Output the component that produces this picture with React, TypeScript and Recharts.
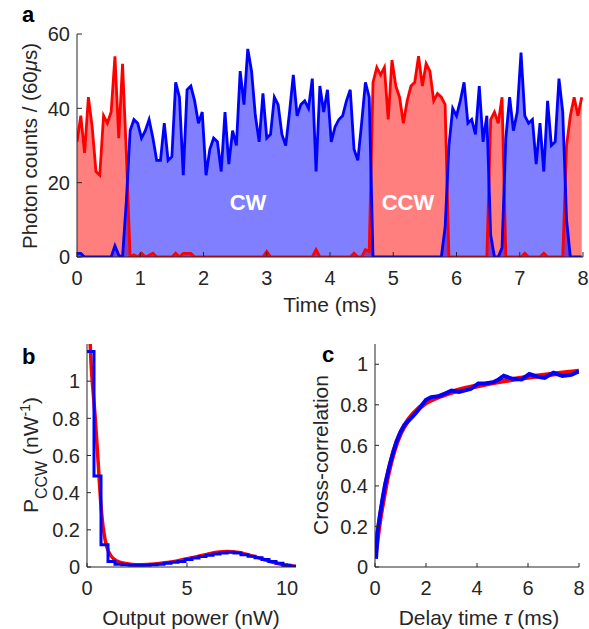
import React from 'react';
import { ComposedChart, Area, LineChart, Line, XAxis, YAxis } from 'recharts';

const FONT = '"Liberation Sans", Arial, Helvetica, sans-serif';
const INK = '#262626';
const RED = '#ff0000';
const BLUE = '#0000ff';

// ---- panel a: photon counts per 60 us bin ----
const binMs = 0.06;
const ccwCounts = [
  31, 38, 28, 43, 35, 23, 22, 38, 36, 39, 54, 32, 52, 28,
  0, 0.6, 0, 1, 0, 0.5, 1, 0, 0, 0, 0, 0,
  1, 0, 1, 1, 1, 0,
  0, 0, 0, 0, 0, 0, 0, 0, 0, 0, 0, 0, 0, 0, 0, 0, 0, 0,
  1.5,
  0, 0, 0, 0, 0, 0, 0, 0, 0, 0, 0, 0,
  2,
  0, 0, 0, 0, 0, 0, 0, 0, 0,
  1, 0, 0, 2, 1.5,
  47, 51, 49, 51, 37, 53, 46, 43, 36, 42, 46, 47, 54, 46, 52, 50, 42, 44, 43, 41,
  0, 0, 0, 0, 0, 0, 0, 0, 0, 0, 0,
  37, 39, 36, 43,
  0, 0, 0, 0, 0,
  1, 0, 0, 0, 0, 1,
  0, 0, 0, 0, 0,
  30, 38, 43, 38, 43,
];
const cwCounts = [
  1, 1, 0, 0, 0, 0, 0, 0, 0, 0, 3, 0.5, 0, 15,
  34, 37, 36, 32, 34, 37, 32, 26, 26, 36, 26, 27, 47, 43, 22, 45, 46, 42, 36, 39,
  22, 29, 32, 31, 23, 39, 25, 34, 30, 50, 41, 56, 50, 38, 31, 44, 32, 33, 43, 41,
  33, 30, 39, 49, 38, 41, 42, 40, 48, 23, 46, 39, 45, 31, 35, 37, 38, 42, 45, 29,
  26, 36, 47, 43,
  0, 0, 0, 0, 0, 0, 0, 0, 0, 0, 0, 0, 0, 0, 0, 0, 0, 0, 0,
  8, 30, 40, 38, 42, 47, 36, 37, 33, 46, 31, 38, 6,
  0, 0, 2.5,
  32, 43, 34, 39, 55, 38, 36, 37, 25, 36, 23, 42, 30, 31, 48, 39, 10,
  0, 0, 0, 0,
];
const timeTicks = [0, 1, 2, 3, 4, 5, 6, 7, 8];
const countTicks = [0, 20, 40, 60];

// ---- panel b: output power histogram ----
const histEdges = [
  0, 0.35, 0.7, 1.05, 1.4, 1.75, 2.1, 2.45, 2.8, 3.15, 3.5, 3.85, 4.2, 4.55, 4.9,
  5.25, 5.6, 5.95, 6.3, 6.65, 7.0, 7.35, 7.7, 8.05, 8.4, 8.75, 9.1, 9.45, 9.8, 10.15, 10.5,
];
const histValues = [
  1.16, 0.49, 0.12, 0.03, 0.015, 0.012, 0.01, 0.01, 0.01, 0.012, 0.015, 0.02, 0.025, 0.03, 0.04,
  0.048, 0.056, 0.063, 0.07, 0.076, 0.08, 0.075, 0.066, 0.058, 0.05, 0.04, 0.03, 0.02, 0.01, 0.004,
];
const fitPower = [
  0.1, 0.2, 0.3, 0.4, 0.5, 0.6, 0.7, 0.8, 0.9, 1.0, 1.2, 1.5, 2.0, 2.5, 3.0,
  3.5, 4.0, 4.5, 5.0, 5.5, 6.0, 6.5, 7.0, 7.5, 8.0, 8.5, 9.0, 9.5, 10.0, 10.45,
];
const fitProb = [
  1.35, 1.1, 0.95, 0.82, 0.66, 0.49, 0.33, 0.22, 0.15, 0.105, 0.06, 0.032, 0.017, 0.012, 0.013,
  0.017, 0.024, 0.033, 0.044, 0.056, 0.068, 0.079, 0.084, 0.08, 0.068, 0.052, 0.035, 0.02, 0.009, 0.003,
];
const powerTicks = [0, 5, 10];
const probTicks = [0, 0.2, 0.4, 0.6, 0.8, 1];

// ---- panel c: cross-correlation ----
const delayMs = [
  0.04, 0.1, 0.2, 0.3, 0.4, 0.55, 0.7, 0.85, 1.0, 1.15, 1.3, 1.5, 1.7, 1.85, 2.0, 2.2, 2.5, 2.75,
  3.0, 3.3, 3.5, 3.75, 4.05, 4.3, 4.65, 4.85, 5.05, 5.4, 5.75, 6.05, 6.35, 6.65, 7.0, 7.35, 7.7, 8.0,
];
const corrMeasured = [
  0.04, 0.17, 0.26, 0.34, 0.41, 0.49, 0.56, 0.62, 0.665, 0.7, 0.72, 0.745, 0.775, 0.8, 0.825, 0.838, 0.842, 0.855,
  0.87, 0.864, 0.87, 0.878, 0.905, 0.905, 0.912, 0.925, 0.943, 0.928, 0.925, 0.952, 0.94, 0.933, 0.958, 0.942, 0.948, 0.965,
];
const fitDelay = [0, 0.1, 0.2, 0.35, 0.5, 0.75, 1.0, 1.25, 1.5, 2.0, 2.5, 3.0, 4.0, 5.0, 6.0, 7.0, 8.0];
const fitCorr = [0.05, 0.15, 0.24, 0.35, 0.45, 0.575, 0.66, 0.715, 0.755, 0.81, 0.84, 0.862, 0.893, 0.917, 0.936, 0.952, 0.966];
const delayTicks = [0, 2, 4, 6, 8];
const corrTicks = [0, 0.2, 0.4, 0.6, 0.8, 1];

const countRows = cwCounts.map((cw, i) => ({ t: i * binMs, cw, ccw: ccwCounts[i] }));
const histRows = histEdges.map((x, i) => ({ x, p: histValues[Math.min(i, histValues.length - 1)] }));
const fitPowerRows = fitPower.map((x, i) => ({ x, p: fitProb[i] }));
const corrRows = delayMs.map((x, i) => ({ x, c: corrMeasured[i] }));
const fitCorrRows = fitDelay.map((x, i) => ({ x, c: fitCorr[i] }));

type Side = 'bottom' | 'left' | 'top' | 'right';

// MATLAB-style inward ticks, label optional
const tickMark = (side: Side, len: number, labels: boolean) => (props: any) => {
  const { x, y, payload } = props;
  const dx = side === 'left' ? len : side === 'right' ? -len : 0;
  const dy = side === 'bottom' ? -len : side === 'top' ? len : 0;
  const txt = { fontFamily: FONT, fontSize: 20, fill: INK };
  return (
    <g>
      <line x1={x} y1={y} x2={x + dx} y2={y + dy} stroke={INK} strokeWidth={1} />
      {labels && side === 'bottom' && (
        <text x={x} y={y + 28} textAnchor="middle" {...txt}>{payload.value}</text>
      )}
      {labels && side === 'left' && (
        <text x={x - 7} y={y} dy="0.36em" textAnchor="end" {...txt}>{payload.value}</text>
      )}
    </g>
  );
};

const axisCommon = {
  type: 'number' as const,
  interval: 0 as const,
  tickSize: 0,
  tickMargin: 0,
  tickLine: false,
  axisLine: { stroke: INK, strokeWidth: 1 },
  allowDataOverflow: true,
};

export default function App() {
  const txt = { fontFamily: FONT, fill: INK };
  return (
    <div style={{ position: 'absolute', left: 0, top: 0, width: 589, height: 629, background: '#fff' }}>
      <div style={{ position: 'absolute', left: 0, top: 0 }}>
        <ComposedChart width={589} height={330} data={countRows} margin={{ top: 34, right: 6, bottom: 0, left: 0 }}>
          <XAxis {...axisCommon} dataKey="t" domain={[0, 8]} ticks={timeTicks} height={73} tick={tickMark('bottom', 5, true)} />
          <XAxis {...axisCommon} xAxisId="top" orientation="top" domain={[0, 8]} ticks={timeTicks} height={0} tick={tickMark('top', 5, false)} />
          <YAxis {...axisCommon} domain={[0, 60]} ticks={countTicks} width={77} tick={tickMark('left', 5, true)} />
          <YAxis {...axisCommon} yAxisId="right" orientation="right" domain={[0, 60]} ticks={countTicks} width={0} tick={tickMark('right', 5, false)} />
          <Area type="linear" dataKey="ccw" stroke="none" fill={RED} fillOpacity={0.5} dot={false} activeDot={false} isAnimationActive={false} />
          <Area type="linear" dataKey="cw" stroke="none" fill={BLUE} fillOpacity={0.5} dot={false} activeDot={false} isAnimationActive={false} />
          <Line type="linear" dataKey="ccw" stroke={RED} strokeWidth={2.8} dot={false} activeDot={false} isAnimationActive={false} />
          <Line type="linear" dataKey="cw" stroke={BLUE} strokeWidth={2.8} dot={false} activeDot={false} isAnimationActive={false} />
        </ComposedChart>
      </div>

      <div style={{ position: 'absolute', left: 0, top: 330 }}>
        <LineChart width={300} height={299} margin={{ top: 14, right: 4, bottom: 0, left: 0 }}>
          <XAxis {...axisCommon} dataKey="x" domain={[0, 10.45]} ticks={powerTicks} height={62} tick={tickMark('bottom', 4, true)} />
          <XAxis {...axisCommon} xAxisId="top" orientation="top" domain={[0, 10.45]} ticks={powerTicks} height={0} tick={tickMark('top', 4, false)} />
          <YAxis {...axisCommon} domain={[0, 1.2]} ticks={probTicks} width={87} tick={tickMark('left', 4, true)} />
          <YAxis {...axisCommon} yAxisId="right" orientation="right" domain={[0, 1.2]} ticks={probTicks} width={0} tick={tickMark('right', 4, false)} />
          <Line data={fitPowerRows} type="monotone" dataKey="p" stroke={RED} strokeWidth={3.5} dot={false} activeDot={false} isAnimationActive={false} />
          <Line data={histRows} type="stepAfter" dataKey="p" stroke={BLUE} strokeWidth={3} dot={false} activeDot={false} isAnimationActive={false} />
        </LineChart>
      </div>

      <div style={{ position: 'absolute', left: 300, top: 330 }}>
        <LineChart width={289} height={299} margin={{ top: 14, right: 10, bottom: 0, left: 0 }}>
          <XAxis {...axisCommon} dataKey="x" domain={[0, 8]} ticks={delayTicks} height={62} tick={tickMark('bottom', 4, true)} />
          <XAxis {...axisCommon} xAxisId="top" orientation="top" domain={[0, 8]} ticks={delayTicks} height={0} tick={tickMark('top', 4, false)} />
          <YAxis {...axisCommon} domain={[0, 1.1]} ticks={corrTicks} width={75} tick={tickMark('left', 4, true)} />
          <YAxis {...axisCommon} yAxisId="right" orientation="right" domain={[0, 1.1]} ticks={corrTicks} width={0} tick={tickMark('right', 4, false)} />
          <Line data={fitCorrRows} type="monotone" dataKey="c" stroke={RED} strokeWidth={5} dot={false} activeDot={false} isAnimationActive={false} />
          <Line data={corrRows} type="linear" dataKey="c" stroke={BLUE} strokeWidth={4} dot={false} activeDot={false} isAnimationActive={false} />
        </LineChart>
      </div>

      <svg width={589} height={629} style={{ position: 'absolute', left: 0, top: 0, pointerEvents: 'none' }}>
        <text x={22} y={22} fontFamily={FONT} fontSize={22} fontWeight="bold" fill="#000">a</text>
        <text x={22} y={364} fontFamily={FONT} fontSize={22} fontWeight="bold" fill="#000">b</text>
        <text x={322} y={362} fontFamily={FONT} fontSize={22} fontWeight="bold" fill="#000">c</text>

        <text x={248} y={210} textAnchor="middle" fontFamily={FONT} fontSize={22} fontWeight="bold" fill="#fff">CW</text>
        <text x={408} y={210} textAnchor="middle" fontFamily={FONT} fontSize={22} fontWeight="bold" fill="#fff">CCW</text>

        <text transform="translate(37,146) rotate(-90)" textAnchor="middle" fontSize={20.5} {...txt}>
          Photon counts / (60<tspan fontStyle="italic">μ</tspan>s)
        </text>
        <text x={330} y={312} textAnchor="middle" fontSize={21} {...txt}>Time (ms)</text>

        <text transform="translate(38,455) rotate(-90)" textAnchor="middle" fontSize={21} {...txt}>
          P<tspan baselineShift="sub" fontSize={16}>CCW</tspan>
          <tspan> (nW</tspan>
          <tspan baselineShift="super" fontSize={14}>-1</tspan>
          <tspan>)</tspan>
        </text>
        <text x={191} y={625} textAnchor="middle" fontSize={21} {...txt}>Output power (nW)</text>

        <text transform="translate(328,455) rotate(-90)" textAnchor="middle" fontSize={21} {...txt}>Cross-correlation</text>
        <text x={479} y={625} textAnchor="middle" fontSize={21} {...txt}>
          Delay time <tspan fontStyle="italic">τ</tspan> (ms)
        </text>
      </svg>
    </div>
  );
}
